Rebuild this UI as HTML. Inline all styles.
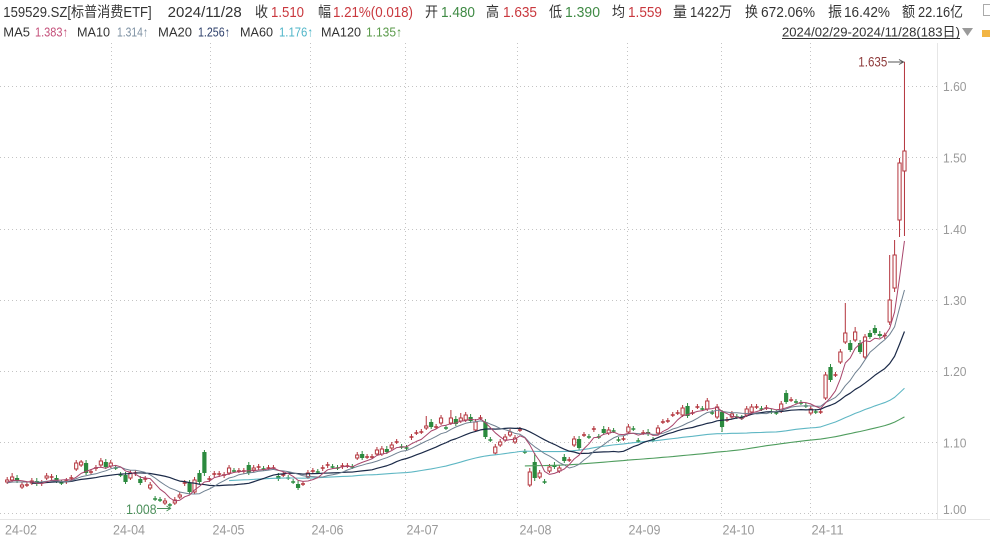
<!DOCTYPE html>
<html>
<head>
<meta charset="utf-8">
<style>
html,body{margin:0;padding:0;background:#fff;}
body{width:990px;height:542px;overflow:hidden;}
svg{display:block;font-family:"Liberation Sans","Noto Sans CJK SC",sans-serif;}
</style>
</head>
<body>
<svg id="chart" width="990" height="542" viewBox="0 0 990 542" xmlns="http://www.w3.org/2000/svg">
<rect x="0" y="0" width="990" height="542" fill="#ffffff"/>

<!-- header row 1 -->
<g font-size="14.5" fill="#333">
<text x="3.3" y="17" textLength="148.4" lengthAdjust="spacingAndGlyphs">159529.SZ[标普消费ETF]</text>
<text x="167.7" y="17" textLength="74" lengthAdjust="spacingAndGlyphs">2024/11/28</text>
<text x="255" y="17" textLength="13" lengthAdjust="spacingAndGlyphs">收</text>
<text x="271" y="17" textLength="33" lengthAdjust="spacingAndGlyphs" fill="#c9383e">1.510</text>
<text x="318" y="17" textLength="13" lengthAdjust="spacingAndGlyphs">幅</text>
<text x="333" y="17" textLength="80" lengthAdjust="spacingAndGlyphs" fill="#c9383e">1.21%(0.018)</text>
<text x="425" y="17" textLength="13" lengthAdjust="spacingAndGlyphs">开</text>
<text x="441" y="17" textLength="34" lengthAdjust="spacingAndGlyphs" fill="#3f8a44">1.480</text>
<text x="486" y="17" textLength="13" lengthAdjust="spacingAndGlyphs">高</text>
<text x="503" y="17" textLength="34" lengthAdjust="spacingAndGlyphs" fill="#c9383e">1.635</text>
<text x="549" y="17" textLength="13" lengthAdjust="spacingAndGlyphs">低</text>
<text x="565" y="17" textLength="35" lengthAdjust="spacingAndGlyphs" fill="#3f8a44">1.390</text>
<text x="612" y="17" textLength="13" lengthAdjust="spacingAndGlyphs">均</text>
<text x="628" y="17" textLength="34" lengthAdjust="spacingAndGlyphs" fill="#c9383e">1.559</text>
<text x="673" y="17" textLength="14" lengthAdjust="spacingAndGlyphs">量</text>
<text x="690" y="17" textLength="42" lengthAdjust="spacingAndGlyphs">1422万</text>
<text x="745" y="17" textLength="13" lengthAdjust="spacingAndGlyphs">换</text>
<text x="761" y="17" textLength="54" lengthAdjust="spacingAndGlyphs">672.06%</text>
<text x="828" y="17" textLength="14" lengthAdjust="spacingAndGlyphs">振</text>
<text x="844" y="17" textLength="46" lengthAdjust="spacingAndGlyphs">16.42%</text>
<text x="902" y="17" textLength="13" lengthAdjust="spacingAndGlyphs">额</text>
<text x="918" y="17" textLength="45" lengthAdjust="spacingAndGlyphs">22.16亿</text>
</g>
<rect x="983.5" y="4.5" width="8" height="11" fill="none" stroke="#aaa" stroke-width="1"/>

<!-- header row 2 -->
<g font-size="13" fill="#333">
<text x="3.3" y="36.5" textLength="26.7" lengthAdjust="spacingAndGlyphs">MA5</text>
<text x="35" y="36.5" textLength="33" lengthAdjust="spacingAndGlyphs" fill="#c4507a">1.383↑</text>
<text x="77" y="36.5" textLength="33" lengthAdjust="spacingAndGlyphs">MA10</text>
<text x="117" y="36.5" textLength="31" lengthAdjust="spacingAndGlyphs" fill="#7d90a2">1.314↑</text>
<text x="158" y="36.5" textLength="34" lengthAdjust="spacingAndGlyphs">MA20</text>
<text x="198" y="36.5" textLength="32" lengthAdjust="spacingAndGlyphs" fill="#2d3f6a">1.256↑</text>
<text x="240" y="36.5" textLength="33" lengthAdjust="spacingAndGlyphs">MA60</text>
<text x="279" y="36.5" textLength="34" lengthAdjust="spacingAndGlyphs" fill="#4fb5c8">1.176↑</text>
<text x="321" y="36.5" textLength="40" lengthAdjust="spacingAndGlyphs">MA120</text>
<text x="366" y="36.5" textLength="36" lengthAdjust="spacingAndGlyphs" fill="#5a9a4a">1.135↑</text>
<text x="782" y="36.5" textLength="178" lengthAdjust="spacingAndGlyphs">2024/02/29-2024/11/28(183日)</text>
</g>
<line x1="782" y1="38.5" x2="960" y2="38.5" stroke="#333" stroke-width="1"/>
<polygon points="962,28 973,28 967.5,36" fill="#9a9a9a"/>
<rect x="982" y="30" width="8" height="7" fill="#f2b544"/>

<!-- grid -->
<g stroke="#c4c4c4" stroke-width="1" stroke-dasharray="1 3" fill="none">
<line x1="0" y1="86.5" x2="937" y2="86.5"/>
<line x1="0" y1="157.5" x2="937" y2="157.5"/>
<line x1="0" y1="229.5" x2="937" y2="229.5"/>
<line x1="0" y1="300.5" x2="937" y2="300.5"/>
<line x1="0" y1="371.5" x2="937" y2="371.5"/>
<line x1="0" y1="442.5" x2="937" y2="442.5"/>
<line x1="0" y1="513.5" x2="937" y2="513.5"/>
<line x1="111.5" y1="43" x2="111.5" y2="519"/>
<line x1="210.5" y1="43" x2="210.5" y2="519"/>
<line x1="310.5" y1="43" x2="310.5" y2="519"/>
<line x1="405.5" y1="43" x2="405.5" y2="519"/>
<line x1="517.5" y1="43" x2="517.5" y2="519"/>
<line x1="627.5" y1="43" x2="627.5" y2="519"/>
<line x1="721.5" y1="43" x2="721.5" y2="519"/>
<line x1="810.5" y1="43" x2="810.5" y2="519"/>
</g>
<line x1="937.5" y1="43" x2="937.5" y2="519" stroke="#e6e6e6" stroke-width="1"/>
<line x1="0" y1="519.5" x2="990" y2="519.5" stroke="#e6e6e6" stroke-width="1"/>

<!-- y labels -->
<g font-size="13" fill="#9a9a9a">
<text x="943" y="91" textLength="23.5" lengthAdjust="spacingAndGlyphs">1.60</text>
<text x="943" y="162.5" textLength="23.5" lengthAdjust="spacingAndGlyphs">1.50</text>
<text x="943" y="234" textLength="23.5" lengthAdjust="spacingAndGlyphs">1.40</text>
<text x="943" y="305" textLength="23.5" lengthAdjust="spacingAndGlyphs">1.30</text>
<text x="943" y="376" textLength="23.5" lengthAdjust="spacingAndGlyphs">1.20</text>
<text x="943" y="447.5" textLength="23.5" lengthAdjust="spacingAndGlyphs">1.10</text>
<text x="943" y="514" textLength="23.5" lengthAdjust="spacingAndGlyphs">1.00</text>
</g>

<!-- x labels -->
<g font-size="13.5" fill="#9a9a9a">
<text x="5" y="534.5" textLength="32" lengthAdjust="spacingAndGlyphs">24-02</text>
<text x="113" y="534.5" textLength="32" lengthAdjust="spacingAndGlyphs">24-04</text>
<text x="212.5" y="534.5" textLength="32" lengthAdjust="spacingAndGlyphs">24-05</text>
<text x="311.5" y="534.5" textLength="32" lengthAdjust="spacingAndGlyphs">24-06</text>
<text x="406.5" y="534.5" textLength="32" lengthAdjust="spacingAndGlyphs">24-07</text>
<text x="519.5" y="534.5" textLength="32" lengthAdjust="spacingAndGlyphs">24-08</text>
<text x="628.5" y="534.5" textLength="32" lengthAdjust="spacingAndGlyphs">24-09</text>
<text x="722.5" y="534.5" textLength="32" lengthAdjust="spacingAndGlyphs">24-10</text>
<text x="811.5" y="534.5" textLength="32" lengthAdjust="spacingAndGlyphs">24-11</text>
</g>

<g id="plot"></g>

<!-- annotations -->
<text x="858.3" y="66.7" font-size="13.5" fill="#8e3a3a" textLength="29" lengthAdjust="spacingAndGlyphs">1.635</text>
<line x1="888" y1="62" x2="903" y2="62" stroke="#555" stroke-width="1"/>
<polyline points="899,59.5 903.5,62 899,64.5" fill="none" stroke="#555" stroke-width="1"/>
<text x="126" y="514" font-size="14" fill="#4b8f5a" textLength="30.5" lengthAdjust="spacingAndGlyphs">1.008</text>
<line x1="157" y1="508.5" x2="170" y2="508.5" stroke="#4b8f5a" stroke-width="1"/>
<polyline points="166.5,506 170.5,508.5 166.5,511" fill="none" stroke="#4b8f5a" stroke-width="1"/>
</svg>

<script>
(function(){
var C=[
[482,480],[480,477,473],[478,481],[487,485],[485,485],[483,481],[481,484],[484,483],[478,476],[478,477],
[478,481],[483,483],[482,481],[479,478],[469,463],[465,462,460],[463,473],[473,472],[469,468],[465,461,458],
[462,467],[466,463],[468,468],[475,475],[475,482],[478,473],[474,473],[479,483],[480,479],[488,485],
[499,499],[500,500],[503,501],[505,505,503,507.6],[503,500],[497,495],[484,483],[483,492],[492,480],[473,482],
[452,473,450,476],[480,479],[475,474],[475,474],[476,475],[473,468],[471,471],[471,471],[472,471],[465,473],
[470,468],[468,467],[469,469],[468,468],[468,468],[476,479],[475,475],[478,478],[482,482],[484,488],
[484,484],[477,473],[471,471],[472,472],[469,468],[466,465],[467,467],[468,468],[467,466],[466,466],
[467,467],[458,455],[454,458],[457,457],[457,457],[454,450],[454,449],[449,452],[448,445],[442,442],
[447,447],[448,448],[438,437],[433,433],[432,432],[428,426,416],[422,427],[427,427],[423,418],[428,428],
[423,418,410],[419,424],[421,418,413],[420,415],[417,421],[430,422],[418,418],[422,437],[440,440],[453,447],
[445,442],[440,437],[435,432],[442,438],[430,430],[452,452],[485,472,468,487],[462,478,453,481],[477,473],[482,482],
[471,467],[465,467],[471,468],[457,461],[460,460],[445,439],[439,448],[435,435],[437,437],[430,429],
[437,437],[429,433],[433,430],[431,431],[440,440],[439,439],[432,427],[429,429],[441,441],[433,433],
[432,434],[440,440],[433,428],[422,422],[421,421],[415,415],[413,413],[415,408],[406,416],[413,413],
[407,407],[409,409],[409,401],[413,413],[417,407],[412,427,410,432],[420,420],[417,414],[417,417],[418,418],
[415,409],[412,407],[407,407],[409,409],[408,408],[412,412],[413,413],[411,404],[393,402],[400,400],
[402,402],[403,403],[406,406],[413,409],[412,412],[412,412],[398,375],[367,380],[375,375],[362,352],
[342,333,303],[343,350],[340,332,327],[343,352],[357,337],[333,337],[328,333],[334,336],[337,335.6],[322,300,255,325],
[288,255,240,292],[220,163,158,237],[171,151,61.8,236]
];
var pre=[486,487,485,484,486,485,483,484,485,482,483,484,482,481];
var NS="http://www.w3.org/2000/svg";
var g=document.getElementById("plot");
function X(i){return 7.2+4.93*i;}
function el(t,a){var e=document.createElementNS(NS,t);for(var k in a)e.setAttribute(k,a[k]);g.appendChild(e);return e;}
var UP="#b3343c",DN="#2b8a3e";
for(var i=0;i<C.length;i++){
  var d=C[i],o=d[0],c=d[1];
  var top=Math.min(o,c),bot=Math.max(o,c);
  var h=(d.length>2)?d[2]:top-3;
  var l=(d.length>3)?d[3]:bot+2;
  var up;
  if(c<o)up=true;else if(c>o)up=false;else up=(i===0)||(c<=C[i-1][1]);
  var col=up?UP:DN;
  var x=X(i);
  el("line",{x1:x,y1:h,x2:x,y2:l,stroke:col,"stroke-width":1});
  if(bot-top<1.5){
    el("line",{x1:x-2,y1:top,x2:x+2,y2:top,stroke:col,"stroke-width":1.5});
  }else if(up){
    el("rect",{x:x-1.6,y:top,width:3.2,height:bot-top,fill:"#fff",stroke:col,"stroke-width":1});
  }else{
    el("rect",{x:x-2.1,y:top,width:4.2,height:bot-top,fill:col});
  }
}
var all=pre.concat(C.map(function(d){return d[1];}));
var P=pre.length;
function ma(n,color,w){
  var pts=[];
  for(var i=0;i<C.length;i++){
    var s=P+i-n+1;if(s<0)continue;
    var sum=0;for(var k=s;k<=P+i;k++)sum+=all[k];
    pts.push(X(i).toFixed(2)+","+(sum/n).toFixed(2));
  }
  el("polyline",{points:pts.join(" "),fill:"none",stroke:color,"stroke-width":w,"stroke-linejoin":"round"});
}
ma(120,"#4f9d5e",1.1);
ma(60,"#5fb7c4",1.1);
ma(20,"#1b2a48",1.2);
ma(10,"#6f8091",1);
ma(5,"#a8466c",1);
})();
</script>
</body>
</html>
